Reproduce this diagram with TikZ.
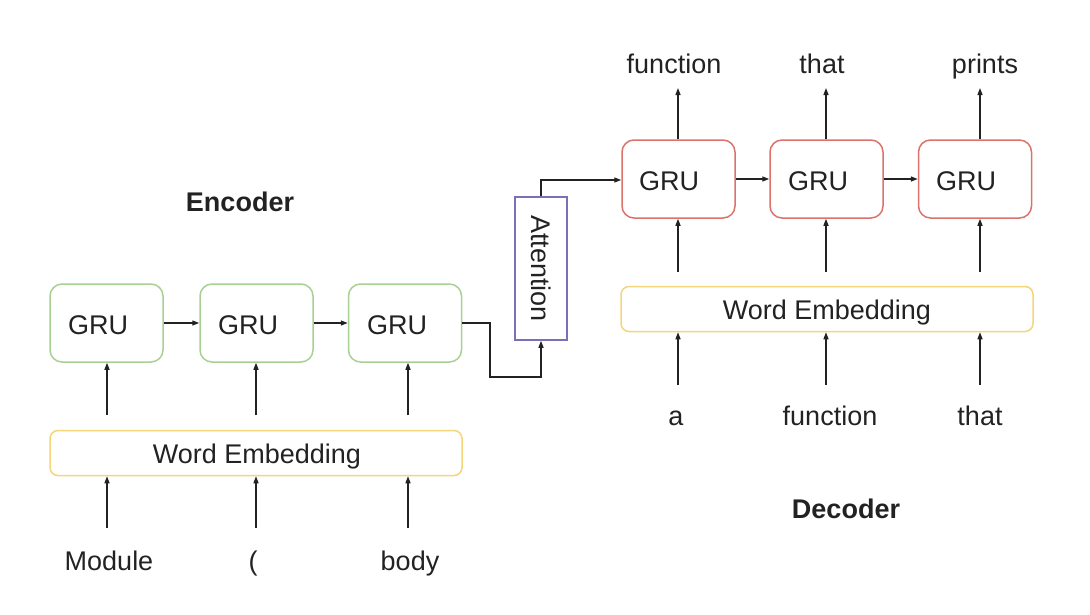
\documentclass[tikz,border=0pt]{standalone}
\usepackage{fontspec}
\setmainfont{Liberation Sans}
\usetikzlibrary{arrows.meta}
\definecolor{txt}{HTML}{222222}
\definecolor{grn}{HTML}{A8CF94}
\definecolor{rd}{HTML}{D9736B}
\definecolor{ylw}{HTML}{F5D57A}
\definecolor{prp}{HTML}{7B6FB8}
\tikzset{
  cell/.style={draw, line width=1.5pt, rounded corners=12pt, minimum width=113pt, minimum height=78pt, inner sep=0pt},
  enccell/.style={cell, draw=grn},
  deccell/.style={cell, draw=rd},
  embed/.style={draw=ylw, line width=1.5pt, rounded corners=8pt, minimum width=412pt, minimum height=45pt, inner sep=0pt},
  attn/.style={draw=prp, line width=1.5pt, minimum width=52pt, minimum height=143pt, inner sep=0pt},
  lbl/.style={font=\fontsize{27}{32}\selectfont, text=txt, anchor=base, inner sep=0pt},
  head/.style={font=\fontsize{27}{32}\selectfont\bfseries, text=txt, anchor=base, inner sep=0pt},
  conn/.style={draw=txt, line width=1.3pt, -{Triangle[length=7pt,width=5pt]}},
}
\begin{document}
\begin{tikzpicture}[x=1pt,y=-1pt]
\useasboundingbox (0,0) rectangle (1090,614);
% Encoder
\node[enccell] (e1) at (106.5,323) {};
\node[enccell] (e2) at (256.5,323) {};
\node[enccell] (e3) at (405,323) {};
\node[lbl] at (98,334) {GRU};
\node[lbl] at (248,334) {GRU};
\node[lbl] at (397,334) {GRU};
\node[embed] (ee) at (256,453) {};
\node[lbl] at (257,463) {Word Embedding};
\node[head] (enc) at (240,211) {Encoder};
\node[lbl] (w1) at (109,570) {Module};
\node[lbl] (w2) at (253,570) {(};
\node[lbl] (w3) at (410,570) {body};
% Decoder
\node[deccell] (d1) at (678.5,179) {};
\node[deccell] (d2) at (826.5,179) {};
\node[deccell] (d3) at (975,179) {};
\node[lbl] at (669,190) {GRU};
\node[lbl] at (818,190) {GRU};
\node[lbl] at (966,190) {GRU};
\node[embed] (de) at (827,309) {};
\node[lbl] at (827,319) {Word Embedding};
\node[head] (dec) at (846,518) {Decoder};
\node[lbl] (i1) at (676,425) {a};
\node[lbl] (i2) at (830,425) {function};
\node[lbl] (i3) at (980,425) {that};
\node[lbl] (o1) at (674,73) {function};
\node[lbl] (o2) at (822,73) {that};
\node[lbl] (o3) at (985,73) {prints};
% Attention
\node[attn] (att) at (541,268.5) {};
\node[font=\fontsize{27}{32}\selectfont, text=txt, rotate=-90, inner sep=0pt] at (541,268.5) {Attention};
% Encoder connectors
\draw[conn] (e1.east) -- (e2.west);
\draw[conn] (e2.east) -- (e3.west);
\foreach \x/\n in {107/e1,256/e2,408/e3}{
  \coordinate (s) at (\x,415);
  \draw[conn] (s) -- (s |- \n.south);
  \coordinate (b) at (\x,528);
  \draw[conn] (b) -- (b |- ee.south);
}
% Decoder connectors
\draw[conn] (d1.east) -- (d2.west);
\draw[conn] (d2.east) -- (d3.west);
\foreach \x/\n/\o in {678/d1/o1,826/d2/o2,980/d3/o3}{
  \coordinate (s) at (\x,272);
  \draw[conn] (s) -- (s |- \n.south);
  \coordinate (b) at (\x,385);
  \draw[conn] (b) -- (b |- de.south);
  \coordinate (t) at (\x,88);
  \draw[conn] (t |- \n.north) -- (t);
}
% Attention connectors
\draw[conn] (e3.east) -- (490,323) -- (490,377) -- (541,377) -- (att.south);
\draw[conn] (att.north) -- (541,180) -- (d1.west |- 0,180);
\end{tikzpicture}
\end{document}
